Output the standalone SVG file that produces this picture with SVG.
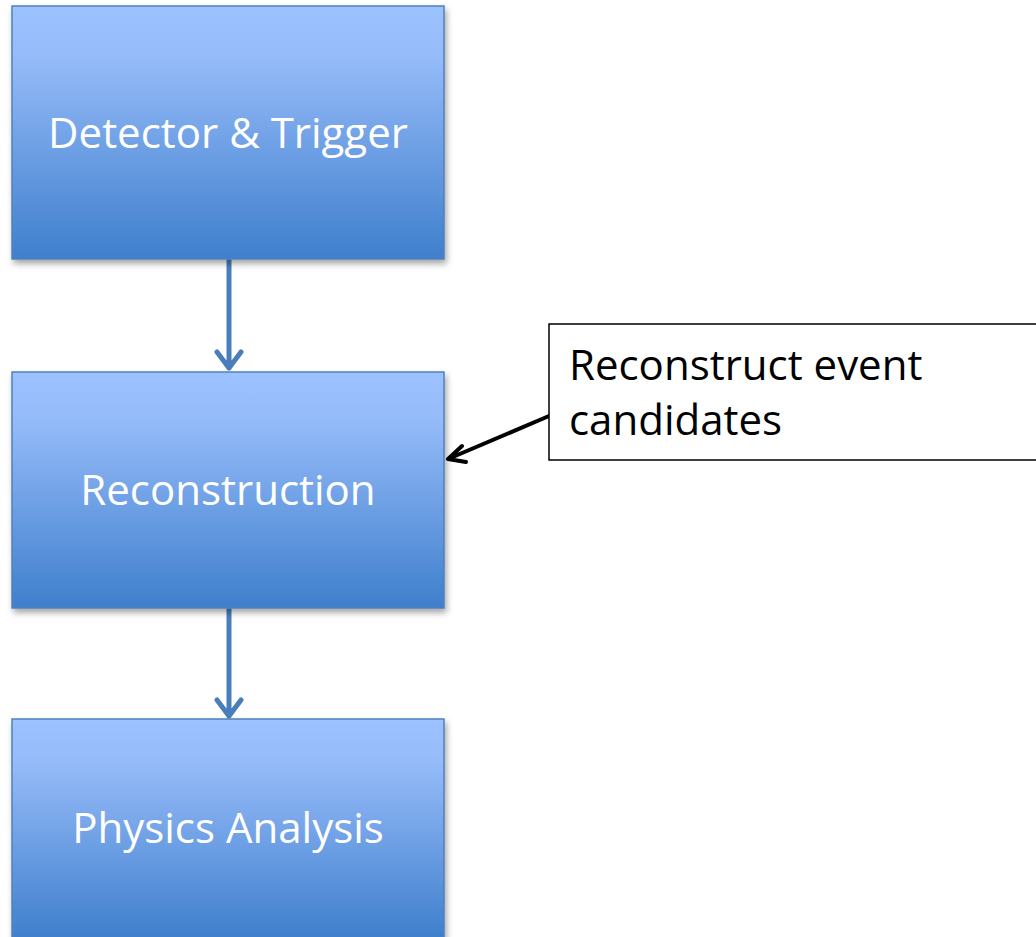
<svg xmlns="http://www.w3.org/2000/svg" width="1036" height="937" viewBox="0 0 1036 937">
<style>
.node{fill:url(#g);stroke:#4F81BD;stroke-width:1.5;filter:url(#sh)}
.lbl{font-family:"Open Sans","Liberation Sans",sans-serif;font-size:42px;fill:#fff;text-anchor:middle}
.note{font-family:"Open Sans","Liberation Sans",sans-serif;font-size:42px;fill:#000}
.blue{stroke:#4A7EBB;stroke-width:5;fill:none;stroke-linecap:round;stroke-linejoin:round}
</style>
<defs>
<linearGradient id="g" x1="0" y1="0" x2="0" y2="1">
<stop offset="0" stop-color="#9CC2FF"/>
<stop offset="0.2" stop-color="#95BBF9"/>
<stop offset="1" stop-color="#3F7FCC"/>
</linearGradient>
<filter id="sh" x="-5%" y="-5%" width="115%" height="115%">
<feDropShadow dx="2" dy="4" stdDeviation="3" flood-color="#000" flood-opacity="0.35"/>
</filter>
</defs>
<rect width="1036" height="937" fill="#fff"/>
<g id="connectors">
<path class="blue" d="M229 260V368M217 352L229 368L241 352"/>
<path class="blue" d="M229 609V716M217 700L229 716L241 700"/>
<path d="M549 416L448 459M462 446L448 459L466 462" stroke="#000" stroke-width="4" fill="none" stroke-linecap="round" stroke-linejoin="round"/>
</g>
<g id="detector">
<rect class="node" x="12" y="6" width="432" height="253"/>
<text class="lbl" x="228" y="148">Detector &amp; Trigger</text>
</g>
<g id="reconstruction">
<rect class="node" x="12" y="372" width="432" height="236"/>
<text class="lbl" x="228" y="505">Reconstruction</text>
</g>
<g id="physics">
<rect class="node" x="12" y="719" width="432" height="220"/>
<text class="lbl" x="228" y="843">Physics Analysis</text>
</g>
<g id="callout">
<rect x="549" y="324" width="490" height="136" fill="#fff" stroke="#000" stroke-width="1.5"/>
<text class="note" x="569" y="380">Reconstruct event</text>
<text class="note" x="569" y="435">candidates</text>
</g>
</svg>
